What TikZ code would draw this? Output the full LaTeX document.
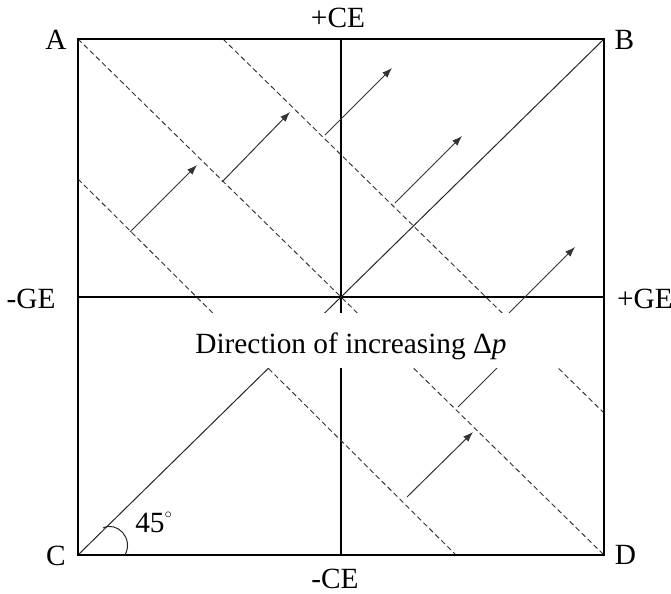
\documentclass[tikz,border=0pt]{standalone}
\usepackage{fontspec}
\setmainfont{Liberation Serif}
\usetikzlibrary{arrows.meta}
\begin{document}
\begin{tikzpicture}[x=0.75pt,y=-0.75pt,
  lbl/.style={font=\fontsize{22}{26}\selectfont, inner sep=0pt, anchor=base},
  frameline/.style={line width=0.95pt, black},
  axisline/.style={line width=0.8pt, black},
  dashline/.style={line width=0.7pt, dash pattern=on 3.9pt off 2.4pt, black!80},
  solidline/.style={line width=0.75pt, black!85},
  arr/.style={line width=0.75pt, black!80, -{Latex[length=7.5pt,width=5.5pt]}},
  plainarr/.style={line width=0.75pt, black!80},
  ]
\useasboundingbox (0,0) rectangle (671,593);
\coordinate (A) at (78,39);
\coordinate (B) at (604,39);
\coordinate (C) at (78,555);
\coordinate (D) at (604,555);
\coordinate (O) at (341,297);
\coordinate (top) at (341,39);
\coordinate (bot) at (341,555);
\coordinate (lft) at (78,297);
\coordinate (rgt) at (604,297);
% axes
\draw[axisline] (top) -- (bot);
\draw[axisline] (lft) -- (rgt);
% dashed lines
\coordinate (p2s) at (78,179);
\coordinate (p2e) at (456,555);
\coordinate (p3s) at (223,39);
\coordinate (p3e) at (604,413);
\draw[dashline] (A) -- (D);
\draw[dashline] (p2s) -- (p2e);
\draw[dashline] (p3s) -- (p3e);
% solid diagonal
\draw[solidline] (C) -- (B);
% arrows
\coordinate (a1) at (130,232); \coordinate (a2) at (197,165);
\coordinate (b1) at (222,182); \coordinate (b2) at (290,112);
\coordinate (c1) at (325,135); \coordinate (c2) at (392,68);
\coordinate (d1) at (395,203); \coordinate (d2) at (462,136);
\coordinate (e1) at (503,319); \coordinate (e2) at (575,247);
\coordinate (g1) at (458,407); \coordinate (g2) at (505,360);
\coordinate (f1) at (407,497); \coordinate (f2) at (473,432);
\draw[arr] (a1) -- (a2);
\draw[arr] (b1) -- (b2);
\draw[arr] (c1) -- (c2);
\draw[arr] (d1) -- (d2);
\draw[arr] (e1) -- (e2);
\draw[plainarr] (g1) -- (g2);
\draw[arr] (f1) -- (f2);
% white band behind the caption
\fill[white] (79,312.5) rectangle (603,368);
% frame
\draw[frameline] (A) rectangle (D);
% angle mark
\draw[solidline] (103,528) .. controls (117,521) and (134,538) .. (125,555);
% labels
\node[lbl] (lA) at (56,49) {A};
\node[lbl] (lB) at (624.5,49) {B};
\node[lbl] (lC) at (56,565) {C};
\node[lbl] (lD) at (625.5,564) {D};
\node[lbl] (lpCE) at (338,27) {+CE};
\node[lbl] (lmCE) at (335,588) {-CE};
\node[lbl] (lmGE) at (31,308) {-GE};
\node[lbl] (lpGE) at (645,308) {+GE};
\node[lbl, anchor=base west] (l45) at (135,532) {45\raisebox{0.45em}{\fontsize{11}{12}\selectfont$\circ$}};
\node[lbl] (dir) at (351,353) {Direction of increasing Δ\textit{p}};
\end{tikzpicture}
\end{document}
